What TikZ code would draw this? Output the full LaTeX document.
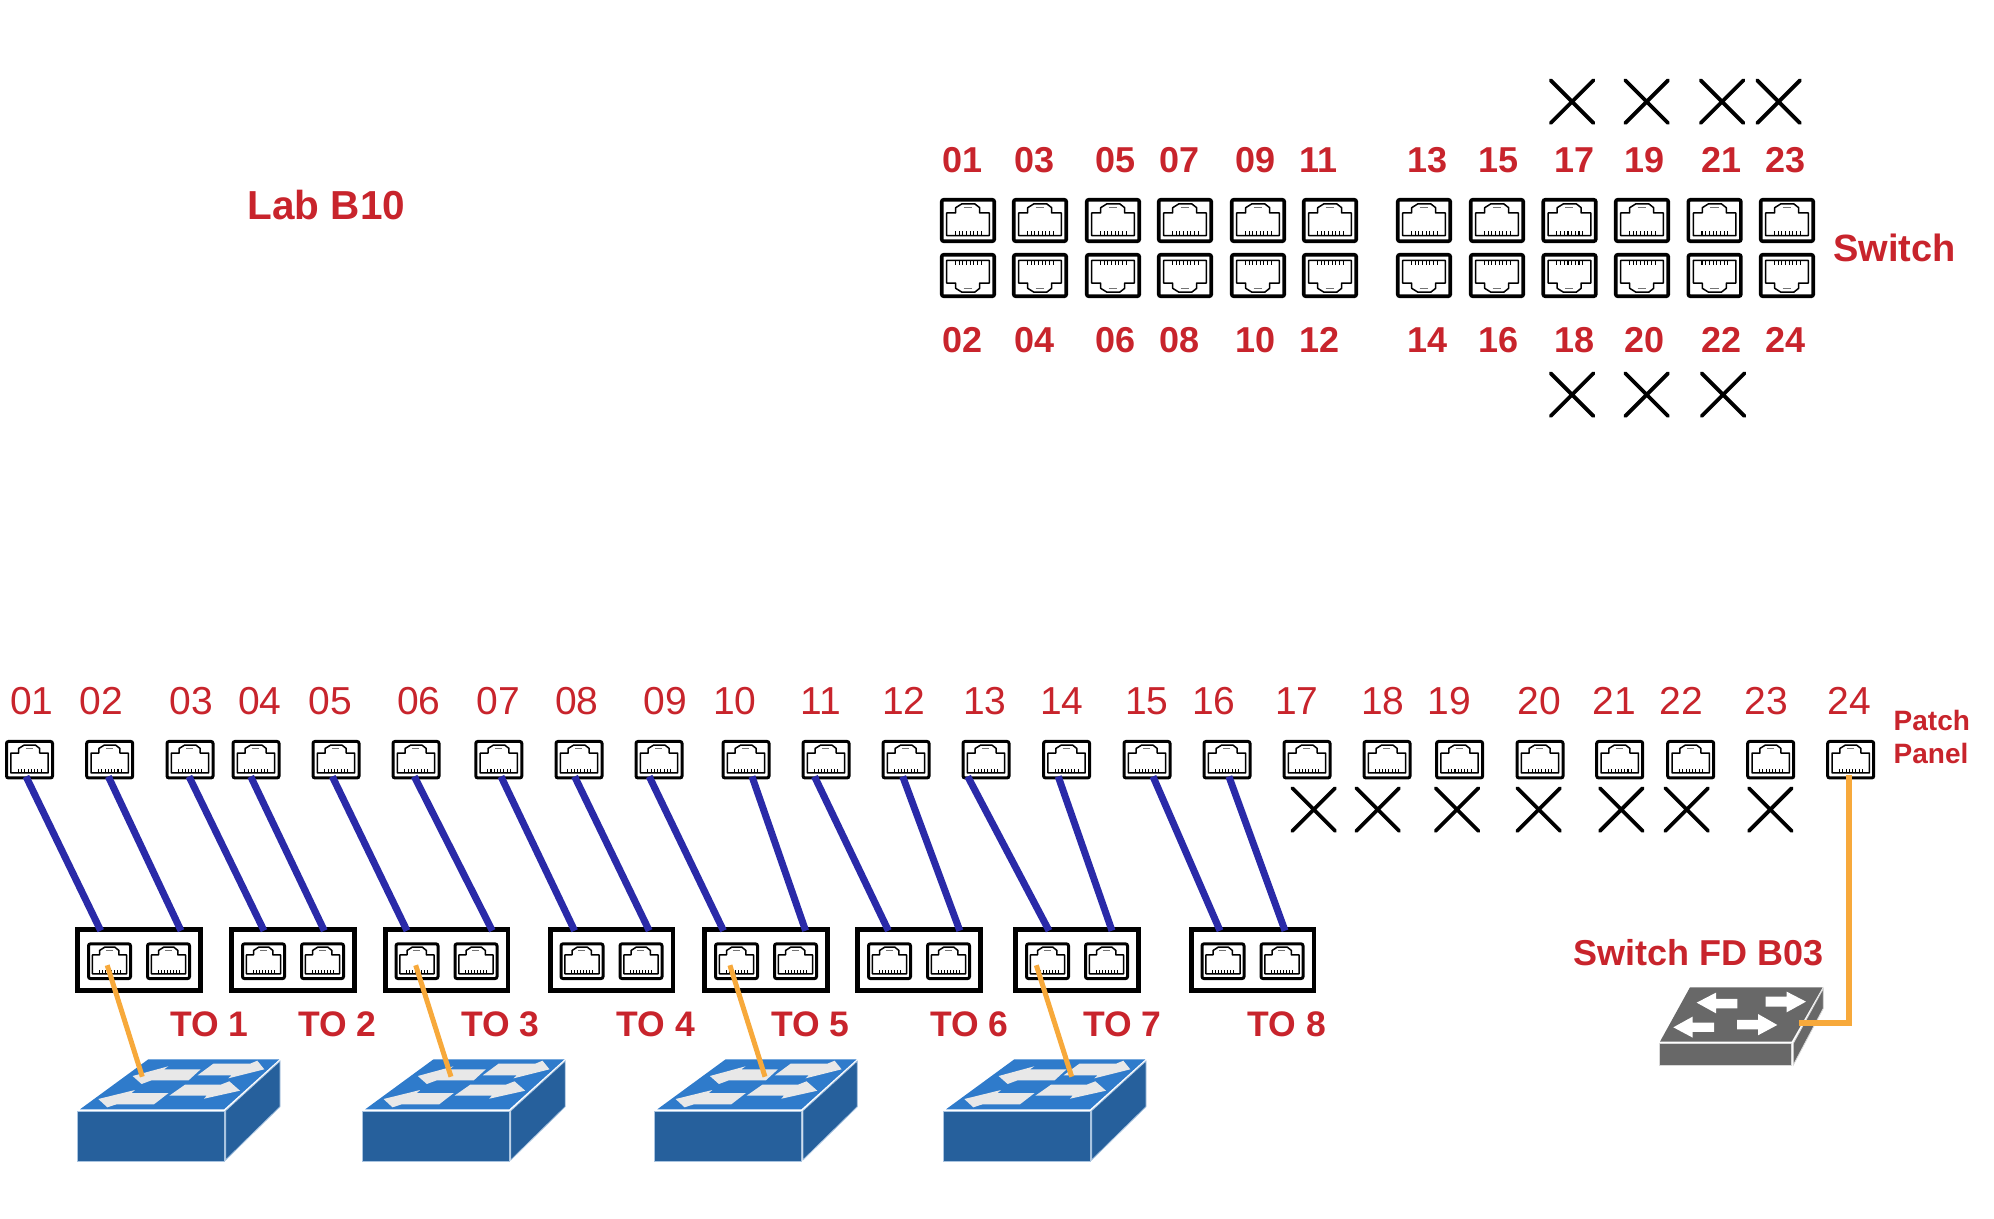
\documentclass[tikz,border=0pt]{standalone}
\usepackage{fontspec}
\setmainfont{Liberation Sans}
\usepackage{xcolor}
\usetikzlibrary{shapes.misc}
\definecolor{labelred}{HTML}{C8242C}
\definecolor{cablblue}{HTML}{2A2AA8}
\definecolor{cablorange}{HTML}{F7A93B}
\definecolor{swfront}{HTML}{26609C}
\definecolor{swtop}{HTML}{2F7BCB}
\definecolor{swedge}{HTML}{A9C4E0}
\definecolor{swarrow}{HTML}{E8E8E8}
\definecolor{fdgrey}{HTML}{686868}

\tikzset{
  biglabel/.style={text=labelred, font=\bfseries\fontsize{36}{40}\selectfont, anchor=base west, inner sep=0pt},
  patchlabel/.style={text=labelred, font=\fontsize{39}{42}\selectfont, anchor=base west, inner sep=0pt},
  swport/.style={draw=black, line width=3.6pt, rounded corners=2pt, minimum width=52.5pt, minimum height=41.5pt, inner sep=0pt},
  ppport/.style={draw=black, line width=3pt, rounded corners=2pt, minimum width=46pt, minimum height=36.5pt, inner sep=0pt},
  toport/.style={draw=black, line width=3pt, rounded corners=2pt, minimum width=42pt, minimum height=34.7pt, inner sep=0pt},
  tobox/.style={draw=black, line width=4.8pt, minimum width=122.8pt, minimum height=60.8pt, inner sep=0pt},
  nogo/.style={cross out, draw=black, line width=3.8pt, line cap=round, minimum size=39pt, inner sep=0pt},
  bluecable/.style={cablblue, line width=7pt},
  orangecable/.style={cablorange, line width=5pt},
  jack/.pic={
    \draw[line width=1.5pt, line join=round] (-0.38,-0.336) -- (-0.38,0.168) -- (-0.22,0.168) -- (-0.22,0.285) -- (-0.107,0.372) -- (0.119,0.372) -- (0.208,0.285) -- (0.208,0.168) -- (0.38,0.168) -- (0.38,-0.336) -- cycle;
    \draw[black!55, line width=1pt] (-0.08,0.285) -- (0.07,0.285);
    \foreach \k in {0,...,7}
      \draw[line width=1.1pt] (-0.226+\k*0.066,-0.24) -- (-0.226+\k*0.066,-0.336);
  },
  blueswitch/.pic={
    \filldraw[fill=swfront, draw=swedge, line width=0.8pt] (0,0) rectangle (146.7,50.3);
    \filldraw[fill=swfront, draw=swedge, line width=0.8pt] (148.3,-0.3) -- (202.7,-50) -- (202.7,-4.3) -- (148.3,49) -- cycle;
    \fill[swtop] (2.7,-1.7) -- (71,-51.7) -- (202,-51.7) -- (146.7,-1.7) -- cycle;
    \fill[swarrow] (55.3,-35) -- (91,-44.7) -- (86.7,-41.7) -- (123.3,-41.7) -- (111.3,-30.7) -- (74.3,-30.7) -- (64.3,-27) -- cycle;
    \fill[swarrow] (187,-41.7) -- (151,-32.7) -- (154.3,-35.7) -- (120.3,-35.7) -- (136,-47.3) -- (172.7,-47.3) -- (180,-50.3) -- cycle;
    \fill[swarrow] (21,-12) -- (57.7,-21) -- (54.3,-18) -- (91.3,-18) -- (76.7,-6.7) -- (39.3,-6.7) -- (30,-3.7) -- cycle;
    \fill[swarrow] (162.7,-20.3) -- (126.7,-12.3) -- (129.3,-15.3) -- (92,-15.3) -- (107.7,-26.3) -- (143.3,-26.3) -- (152,-29.7) -- cycle;
  },
  greyswitch/.pic={
    \filldraw[fill=fdgrey, draw=black!15, line width=0.8pt] (298,1090) rectangle (695,1155);
    \filldraw[fill=fdgrey, draw=black!15, line width=0.8pt] (700,1090) -- (790,925) -- (790,985) -- (700,1155) -- cycle;
    \fill[fdgrey] (300,1085) -- (390,922) -- (788,922) -- (695,1085) -- cycle;
    \fill[white] (410,968) -- (468,938) -- (468,957) -- (532,957) -- (532,985) -- (468,985) -- (468,1000) -- cycle;
    \fill[white] (738,965) -- (680,935) -- (680,950) -- (617,950) -- (617,980) -- (680,980) -- (680,997) -- cycle;
    \fill[white] (340,1042) -- (398,1010) -- (398,1028) -- (462,1028) -- (462,1056) -- (398,1056) -- (398,1073) -- cycle;
    \fill[white] (652,1035) -- (594,1002) -- (594,1020) -- (531,1020) -- (531,1048) -- (594,1048) -- (594,1066) -- cycle;
  }
}

\begin{document}
\begin{tikzpicture}[x=1pt, y=-1pt]
  \useasboundingbox (0,0) rectangle (1994,1218);

  \node[biglabel, font=\bfseries\fontsize{40.5}{42}\selectfont] (labname) at (247.5,219) {Lab B10};
  \node[biglabel, font=\bfseries\fontsize{38}{40}\selectfont] (swname) at (1833,261.5) {Switch};
  \node[biglabel] (fdname) at (1573,965.3) {Switch FD B03};
  \node[biglabel, font=\bfseries\fontsize{28}{33}\selectfont, align=left] (ppname) at (1893.5,763) {Patch\\Panel};

  % switch ports, odd row on top and even row below
  \foreach \n/\m/\x in {01/02/968,03/04/1040,05/06/1113,07/08/1185,09/10/1258,11/12/1330,13/14/1424,15/16/1497,17/18/1569.5,19/20/1642,21/22/1714.6,23/24/1787} {
    \node[swport] (su\n) at (\x,220.5) {};
    \node[swport] (sd\m) at (\x,275.5) {};
    \pic[x=56pt,y=45pt] at (su\n) {jack};
    \pic[x=56pt,y=-45pt] at (sd\m) {jack};
  }
  \foreach \n/\m/\x in {01/02/942.5,03/04/1014,05/06/1095,07/08/1159,09/10/1235,11/12/1299,13/14/1407,15/16/1478,17/18/1554,19/20/1624,21/22/1701,23/24/1765.5} {
    \node[biglabel] (lu\n) at (\x,172.7) {\n};
    \node[biglabel] (ld\m) at (\x,352.7) {\m};
  }
  \foreach \n/\x/\y in {a/1572/101.7,b/1646.7/101.7,c/1722/101.7,d/1778.6/101.7,e/1572/394.7,f/1646.7/394.7,g/1723/394.7}
    \node[nogo] (sx\n) at (\x,\y) {};

  % patch panel
  \foreach \n/\x in {01/29.5,02/109.7,03/190,04/256,05/336,06/416,07/498.8,08/579,09/659,10/746,11/826,12/906,13/986,14/1066.6,15/1147,16/1227,17/1307,18/1387,19/1459.6,20/1540,21/1619.7,22/1690.7,23/1770.7,24/1850.7} {
    \node[ppport] (pp\n) at (\x,759.7) {};
    \pic[x=49pt,y=39.5pt] at (pp\n) {jack};
  }
  \foreach \n/\x in {01/10,02/79.5,03/169.5,04/238,05/308.5,06/397,07/476.5,08/555,09/643.5,10/713,11/800.5,12/882,13/963,14/1040,15/1125,16/1192,17/1275,18/1361,19/1427.5,20/1517.5,21/1592.5,22/1659.5,23/1744.5,24/1827.5}
    \node[patchlabel] (pl\n) at (\x,714) {\n};
  \foreach \n/\x in {a/1313.7,b/1377.7,c/1457,d/1538.7,e/1621.3,f/1686.7,g/1770.3}
    \node[nogo] (px\n) at (\x,809.5) {};

  % telecom outlets
  \foreach \n/\x/\lx in {1/139/170,2/293/298,3/446.5/461,4/611.5/616.5,5/766/771,6/919/930,7/1077/1083,8/1252.5/1247.5} {
    \node[tobox] (to\n) at (\x,960) {};
    \node[toport] (ta\n) at (\x-29.5,961.2) {};
    \node[toport] (tb\n) at (\x+29.5,961.2) {};
    \pic[x=45pt,y=37.7pt] at (ta\n) {jack};
    \pic[x=45pt,y=37.7pt] at (tb\n) {jack};
    \node[biglabel, font=\bfseries\fontsize{35.5}{38}\selectfont] (tl\n) at (\lx,1036.5) {TO \n};
  }

  % cables panel to outlet
  \foreach \n/\t/\a/\b in {01/1/-3.5/-38.3,02/1/-1.4/42,03/2/-1/-29,04/2/-5.3/31.3,05/3/-3.7/-39.5,06/3/-1.7/45.8,07/4/2.2/-36.9,08/4/-4.4/37.7,09/5/-9.8/-42.5,10/5/6/39.6,11/6/-11.5/-30.6,12/6/-3.3/40.8,13/7/-18.3/-28,14/7/-8.4/35,15/8/6/-32.5,16/8/1.9/32.5}
    \draw[bluecable] ([xshift=\a pt,yshift=3pt]pp\n.south) -- ([xshift=\b pt,yshift=-3.5pt]to\t.north);

  % switches
  \foreach \n/\x in {1/77.3,2/362.5,3/654.6,4/943.3} {
    \coordinate (sw\n) at (\x,1111);
    \pic at (sw\n) {blueswitch};
  }
  \begin{scope}[shift={(1560,680)}, x=0.3333pt, y=-0.3333pt]
    \pic at (0,0) {greyswitch};
    \coordinate (swfd) at (717,1028);
  \end{scope}

  \foreach \t/\s/\a/\b in {1/1/-2.3/65,3/2/-1.3/88.5,5/3/-6.6/110.4,7/4/-11.2/128.4}
    \draw[orangecable] ([xshift=\a pt,yshift=-4pt]ta\t.center) -- ([xshift=\b pt,yshift=34.3pt]sw\s);
  \draw[cablorange, line width=6pt] ([xshift=-2pt,yshift=4pt]pp24.south) |- (swfd);
\end{tikzpicture}
\end{document}
